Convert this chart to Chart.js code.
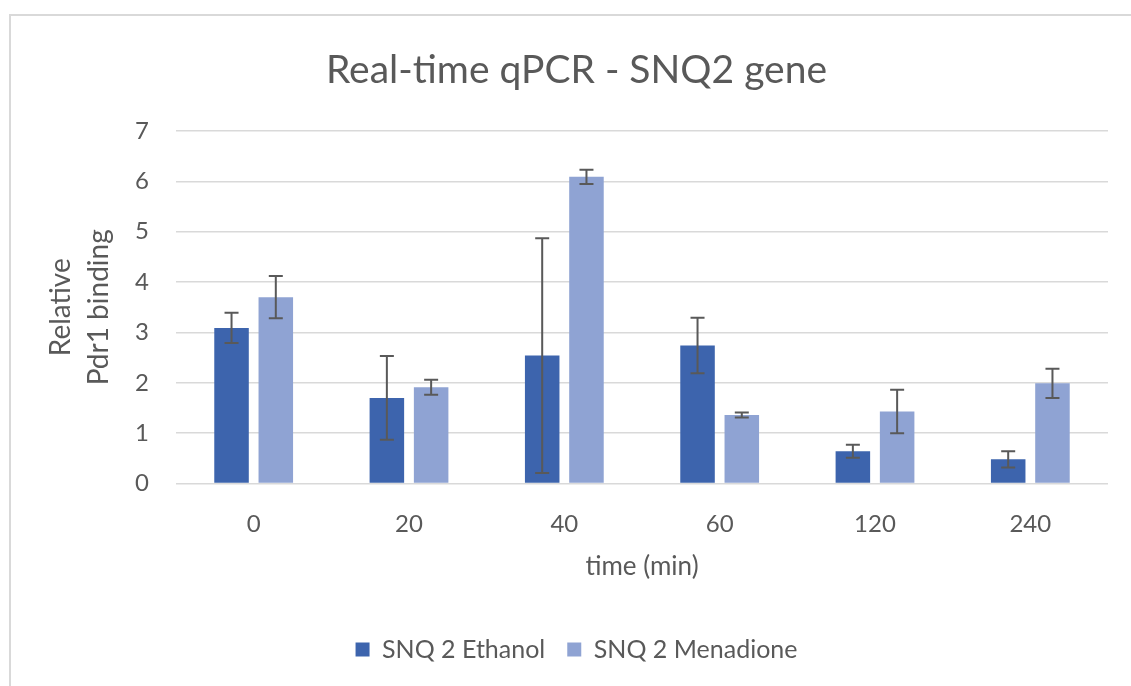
<!DOCTYPE html>
<html>
<head>
<meta charset="utf-8">
<script src="https://cdn.jsdelivr.net/npm/chart.js@4/dist/chart.umd.min.js"></script>
<style>
  html, body { margin: 0; padding: 0; background: #ffffff; }
  #frame { position: absolute; left: 9px; top: 14px; width: 1200px; height: 800px; border-left: 2px solid #d9d9d9; border-top: 2px solid #d9d9d9; box-sizing: border-box; }
  #wrap { position: absolute; left: 0; top: 0; width: 1131px; height: 686px; }
</style>
</head>
<body>
<div id="frame"></div>
<div id="wrap"><canvas id="c" width="1131" height="686"></canvas></div>
<script>
const categories = ['0', '20', '40', '60', '120', '240'];
const ethanolValues = [3.09, 1.70, 2.54, 2.74, 0.64, 0.48];
const ethanolErrors = [0.30, 0.83, 2.33, 0.55, 0.13, 0.16];
const menadioneValues = [3.70, 1.91, 6.09, 1.36, 1.43, 1.99];
const menadioneErrors = [0.42, 0.15, 0.14, 0.05, 0.43, 0.29];
const yTicks = [0, 1, 2, 3, 4, 5, 6, 7];

const textColor = '#595959';
const fontFamily = 'Lato, "Open Sans", sans-serif';

const errorBarPlugin = {
  id: 'errorBars',
  afterDatasetsDraw(chart) {
    const ctx = chart.ctx;
    const yScale = chart.scales.y;
    chart.data.datasets.forEach((ds, di) => {
      const meta = chart.getDatasetMeta(di);
      if (meta.hidden) return;
      meta.data.forEach((bar, i) => {
        const v = ds.data[i];
        const e = ds.errors[i];
        const yTop = yScale.getPixelForValue(v + e);
        const yBot = yScale.getPixelForValue(v - e);
        const x = bar.x;
        const cap = 7;
        ctx.save();
        ctx.strokeStyle = '#595959';
        ctx.lineWidth = 2;
        ctx.beginPath();
        ctx.moveTo(x, yTop); ctx.lineTo(x, yBot);
        ctx.moveTo(x - cap, yTop); ctx.lineTo(x + cap, yTop);
        ctx.moveTo(x - cap, yBot); ctx.lineTo(x + cap, yBot);
        ctx.stroke();
        ctx.restore();
      });
    });
  }
};

new Chart(document.getElementById('c'), {
  type: 'bar',
  data: {
    labels: categories,
    datasets: [
      { label: 'SNQ 2 Ethanol', data: ethanolValues, errors: ethanolErrors, backgroundColor: '#3D64AD', categoryPercentage: 0.57, barPercentage: 0.78 },
      { label: 'SNQ 2 Menadione', data: menadioneValues, errors: menadioneErrors, backgroundColor: '#8FA3D3', categoryPercentage: 0.57, barPercentage: 0.78 }
    ]
  },
  options: {
    responsive: false,
    animation: false,
    layout: { padding: { left: 45, right: 23, top: 0, bottom: 14 } },
    plugins: {
      title: {
        display: true,
        text: 'Real-time qPCR - SNQ2 gene',
        color: textColor,
        font: { family: fontFamily, size: 39, weight: 'normal', lineHeight: 1.2 },
        padding: { top: 46.6, bottom: 37.6 }
      },
      legend: {
        position: 'bottom',
        labels: {
          color: textColor,
          font: { family: fontFamily, size: 25 },
          boxWidth: 14, boxHeight: 14, padding: 22
        }
      },
      tooltip: { enabled: false }
    },
    scales: {
      x: {
        grid: { display: false, drawTicks: false },
        border: { display: false },
        ticks: { color: textColor, font: { family: fontFamily, size: 24 }, padding: 26 },
        title: { display: true, text: 'time (min)', color: textColor, font: { family: fontFamily, size: 26, lineHeight: 1.2 }, padding: { top: 0, bottom: 33 } },
        afterFit(scale) { scale.height = 131.5; }
      },
      y: {
        min: 0, max: 7,
        afterBuildTicks(scale) { scale.ticks = yTicks.map(v => ({ value: v })); },
        grid: { color: '#d9d9d9', lineWidth: 1.5, drawTicks: false },
        border: { display: false },
        ticks: { color: textColor, font: { family: fontFamily, size: 24 }, padding: 27 },
        title: { display: true, text: ['Relative', 'Pdr1 binding'], color: textColor, font: { family: fontFamily, size: 28, lineHeight: 1.35 }, padding: { top: -3, bottom: 0 } },
        afterFit(scale) { scale.width = 131; }
      }
    }
  },
  plugins: [errorBarPlugin]
});
</script>
</body>
</html>
